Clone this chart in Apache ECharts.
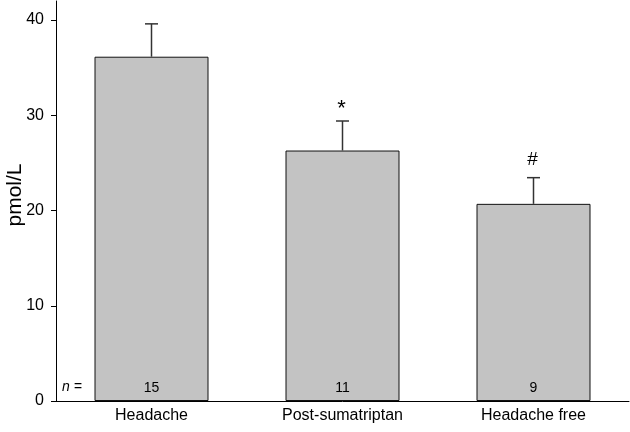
<!DOCTYPE html>
<html>
<head>
<meta charset="utf-8">
<script src="https://cdn.jsdelivr.net/npm/echarts@6/dist/echarts.min.js"></script>
<style>
  html, body { margin: 0; padding: 0; background: #fff; }
  #main { width: 630px; height: 432px; }
</style>
</head>
<body>
<div id="main"></div>
<script>
"use strict";

var groups = ['Headache', 'Post-sumatriptan', 'Headache free'];
var means = [36.15, 26.3, 20.7];
var sem = [3.45, 3.1, 2.75];
var counts = [15, 11, 9];
var marks = ['', '*', '#'];

var myChart = echarts.init(document.getElementById('main'));
var font = 'Liberation Sans, Arial, sans-serif';

var errData = [];
for (var i = 0; i < groups.length; i++) {
    errData.push([i, means[i], means[i] + sem[i], marks[i]]);
}

var option = {
    animation: false,
    grid: { left: 56, right: 1, top: 1, bottom: 31, outerBoundsMode: 'none', containLabel: false },
    xAxis: {
        type: 'category',
        data: groups,
        axisLine: { lineStyle: { color: '#000', width: 1 } },
        axisTick: { alignWithLabel: true, length: 5, lineStyle: { color: '#000' } },
        axisLabel: { color: '#000', fontSize: 16, fontFamily: font, margin: 7 }
    },
    yAxis: {
        type: 'value',
        min: 0,
        max: 42,
        interval: 10,
        name: 'pmol/L',
        nameLocation: 'middle',
        nameGap: 30,
        nameMoveOverlap: false,
        nameTextStyle: { color: '#000', fontSize: 21, fontFamily: font, padding: [0, 0, 0, 12] },
        axisLine: { show: true, lineStyle: { color: '#000', width: 1 } },
        axisTick: { show: true, length: 5, lineStyle: { color: '#000' } },
        axisLabel: { color: '#000', fontSize: 16, fontFamily: font, margin: 12, showMaxLabel: false },
        splitLine: { show: false }
    },
    series: [
        {
            type: 'bar',
            data: means,
            barWidth: 114,
            itemStyle: { color: '#c3c3c3', borderColor: '#111', borderWidth: 1 },
            label: {
                show: true,
                position: 'insideBottom',
                distance: 6,
                color: '#000',
                fontSize: 14,
                fontFamily: font,
                formatter: function (p) { return counts[p.dataIndex]; }
            },
            z: 2
        },
        {
            type: 'custom',
            data: errData,
            z: 3,
            renderItem: function (params, api) {
                var x = api.value(0);
                var base = api.coord([x, api.value(1)]);
                var top = api.coord([x, api.value(2)]);
                var cap = 6.5;
                var children = [
                    { type: 'line', shape: { x1: base[0], y1: base[1], x2: top[0], y2: top[1] },
                      style: { stroke: '#333', lineWidth: 1.5 } },
                    { type: 'line', shape: { x1: top[0] - cap, y1: top[1], x2: top[0] + cap, y2: top[1] },
                      style: { stroke: '#333', lineWidth: 1.5 } }
                ];
                var m = errData[params.dataIndex][3];
                if (m) {
                    children.push({
                        type: 'text',
                        style: {
                            text: m, x: top[0] - 1, y: top[1] - (m === '*' ? 1 : 8),
                            align: 'center', verticalAlign: 'bottom',
                            fill: '#000', fontSize: m === '*' ? 22 : 19, fontFamily: font
                        }
                    });
                }
                return { type: 'group', children: children };
            }
        }
    ],
    graphic: [
        {
            type: 'text',
            left: 62,
            top: 380,
            style: { text: 'n =', fill: '#000', fontSize: 14, fontFamily: font, fontStyle: 'italic' }
        }
    ]
};
myChart.setOption(option);
</script>
</body>
</html>
